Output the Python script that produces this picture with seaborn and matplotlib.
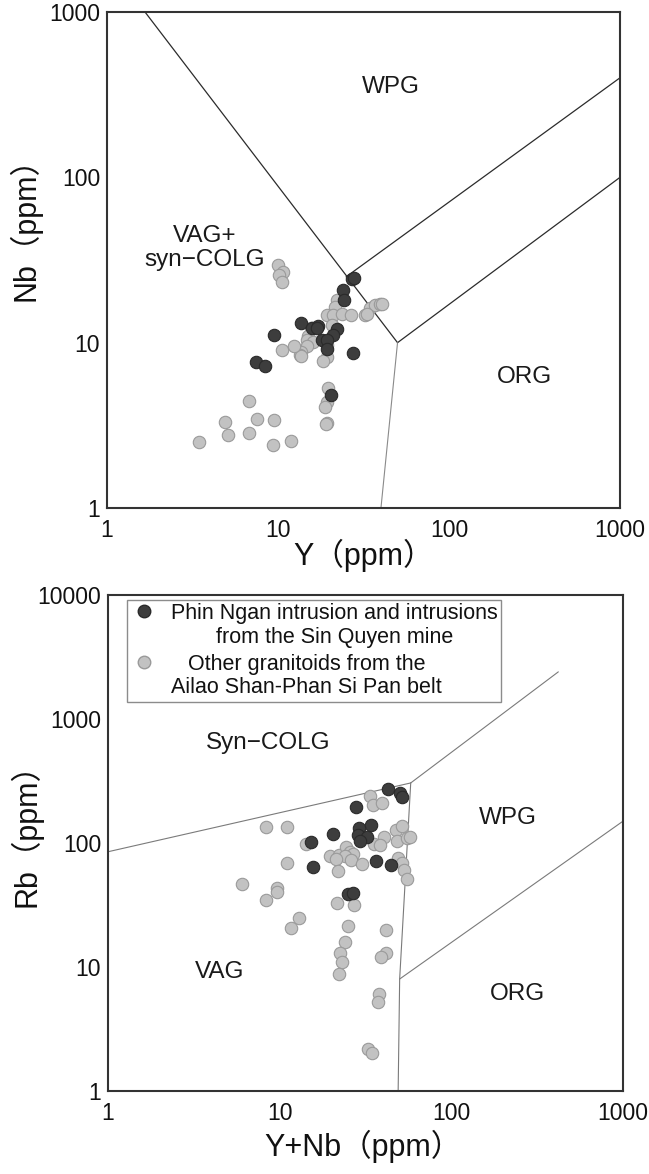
import numpy as np
import pandas as pd
import matplotlib
matplotlib.use("Agg")
import matplotlib.pyplot as plt
import seaborn as sns
from matplotlib.ticker import LogLocator, FuncFormatter, NullFormatter
from matplotlib.lines import Line2D
from matplotlib.legend_handler import HandlerLine2D

# ---------------- data ----------------
# Top: Nb vs Y
top_dark_Y = [27.0, 27.9, 23.9, 24.4, 13.6, 9.5, 15.9, 17.2, 16.8, 22.0, 21.1, 18.0, 19.3, 19.3, 27.6, 7.4, 8.4, 20.4]
top_dark_Nb = [24.2, 24.7, 20.8, 18.1, 13.2, 11.2, 12.2, 12.7, 12.2, 12.1, 11.1, 10.4, 10.4, 9.1, 8.7, 7.6, 7.2, 4.8]

top_light_Y = [10.0, 10.7, 10.2, 10.6, 22.0, 21.5, 19.3, 21.1, 23.6, 26.7, 32.3, 34.5, 36.9, 39.5, 40.7,
               15.7, 15.0, 14.7, 16.1, 14.7, 13.7, 13.5, 13.7, 12.4, 10.6, 19.3, 18.4, 19.7, 19.3, 18.8,
               19.3, 19.0, 6.8, 4.9, 7.5, 9.5, 5.1, 6.8, 3.45, 9.4, 11.9, 20.6, 19.3, 33.0]
top_light_Nb = [29.5, 26.9, 25.7, 23.4, 18.1, 16.5, 14.7, 14.7, 14.9, 14.6, 14.7, 16.1, 16.9, 17.1, 17.1,
                12.2, 10.9, 10.4, 10.1, 9.5, 8.8, 8.4, 8.3, 9.6, 9.0, 8.2, 7.7, 5.3, 4.4, 4.1,
                3.25, 3.2, 4.46, 3.33, 3.45, 3.39, 2.76, 2.86, 2.5, 2.4, 2.55, 12.8, 9.7, 15.0]

# Bottom: Rb vs Y+Nb
bot_dark_YNb = [43.0, 50.2, 51.8, 27.8, 34.0, 29.1, 28.7, 32.4, 29.4, 20.5, 15.2, 15.7, 36.4, 44.5, 25.1, 26.6]
bot_dark_Rb = [271, 252, 236, 194, 140, 131, 116, 112, 103, 118, 101, 64, 72, 67, 38.8, 39.7]

bot_light_YNb = [33.8, 35.1, 39.7, 8.3, 11.0, 14.2, 19.6, 22.2, 24.5, 25.7, 26.8, 24.0, 21.4, 26.2, 30.0,
                 21.9, 11.1, 6.0, 9.6, 9.6, 8.3, 47.6, 51.3, 40.6, 35.6, 38.4, 48.0, 55.3, 57.4, 49.1,
                 51.3, 53.0, 55.3, 21.5, 27.1, 13.0, 11.7, 24.9, 24.0, 22.4, 23.0, 22.1, 41.6, 41.6,
                 38.9, 38.0, 37.2, 32.8, 34.6]
bot_light_Rb = [239, 202, 211, 134, 134, 99, 78, 80, 93, 85, 82, 78, 74, 73, 68,
                60, 69, 47, 43, 40, 35, 127, 137, 112, 99, 96, 103, 109, 111, 75,
                69, 61, 51, 33, 31.6, 25, 20.5, 21.5, 16.0, 12.9, 10.9, 8.7, 19.9, 12.9,
                12.1, 6.1, 5.2, 2.17, 2.04]

# discrimination boundaries (Pearce et al., 1984)
top_b1_x = [1, 50]; top_b1_y = [2000, 10]
top_b2_x = [25, 1000]; top_b2_y = [25, 400]
top_b3_x = [50, 1000]; top_b3_y = [10, 100]
top_b4_x = [50, 40]; top_b4_y = [10, 1]

bot_b1_x = [1, 58]; bot_b1_y = [85, 305]
bot_b2_x = [58, 420]; bot_b2_y = [305, 2400]
bot_b3_x = [58, 50, 49]; bot_b3_y = [305, 8, 1]
bot_b4_x = [50, 1000]; bot_b4_y = [8, 150]

group_labels = ["Phin Ngan intrusion and intrusions\nfrom the Sin Quyen mine",
                "Other granitoids from the\nAilao Shan-Phan Si Pan belt"]

# ---------------- style ----------------
sns.set_style("white")
plt.rcParams['font.family'] = ['Liberation Sans', 'Noto Sans CJK SC', 'DejaVu Sans']

DARK_FC, DARK_EC = "#3d3d3d", "#2a2a2a"
LIGHT_FC, LIGHT_EC = "#c2c2c2", "#9a9a9a"
SPINE = "#333333"
MS = 80

fig = plt.figure(figsize=(6.49, 11.74), dpi=100)
ax1 = fig.add_axes([107/649, 1-508/1174, 513/649, 496/1174])
ax2 = fig.add_axes([108/649, 1-1091/1174, 515/649, 496/1174])

fmt = FuncFormatter(lambda v, p: f"{v:g}")


def style_axes(ax, ymax):
    ax.set_xscale('log'); ax.set_yscale('log')
    ax.set_xlim(1, 1000); ax.set_ylim(1, ymax)
    for s in ax.spines.values():
        s.set_color(SPINE); s.set_linewidth(1.5)
    ax.xaxis.set_major_locator(LogLocator(base=10))
    ax.yaxis.set_major_locator(LogLocator(base=10))
    ax.xaxis.set_minor_locator(LogLocator(base=10, subs=np.arange(2, 10)))
    ax.yaxis.set_minor_locator(LogLocator(base=10, subs=np.arange(2, 10)))
    ax.xaxis.set_major_formatter(fmt); ax.yaxis.set_major_formatter(fmt)
    ax.xaxis.set_minor_formatter(NullFormatter()); ax.yaxis.set_minor_formatter(NullFormatter())
    ax.tick_params(which='both', direction='in', top=False, right=False,
                   color=SPINE, width=1.0, labelsize=16.5, labelcolor='#111111')
    ax.tick_params(which='major', length=5)
    ax.tick_params(which='minor', length=4)
    ax.tick_params(axis='x', pad=8)
    ax.tick_params(axis='y', pad=5)


def scatter_groups(ax, lx, ly, dx, dy):
    dfl = pd.DataFrame({'x': lx, 'y': ly})
    dfd = pd.DataFrame({'x': dx, 'y': dy})
    sns.scatterplot(data=dfl, x='x', y='y', ax=ax, s=MS, color=LIGHT_FC,
                    edgecolor=LIGHT_EC, linewidth=0.8, legend=False, zorder=3)
    sns.scatterplot(data=dfd, x='x', y='y', ax=ax, s=MS, color=DARK_FC,
                    edgecolor=DARK_EC, linewidth=0.8, legend=False, zorder=4)


# ---------------- top panel ----------------
style_axes(ax1, 1000)
ax1.plot(top_b1_x, top_b1_y, color='#2b2b2b', lw=0.9, zorder=2)
ax1.plot(top_b2_x, top_b2_y, color='#2b2b2b', lw=0.9, zorder=2)
ax1.plot(top_b3_x, top_b3_y, color='#2b2b2b', lw=0.9, zorder=2)
ax1.plot(top_b4_x, top_b4_y, color='#8a8a8a', lw=0.8, zorder=2)
scatter_groups(ax1, top_light_Y, top_light_Nb, top_dark_Y, top_dark_Nb)

tkw = dict(ha='center', va='center', fontsize=17.5, color='#1a1a1a')
ax1.text(46, 350, "WPG", **tkw)
ax1.text(3.74, 37.4, "VAG+\nsyn\u2212COLG", linespacing=1.15, **tkw)
ax1.text(278, 6.2, "ORG", **tkw)

ax1.set_xlabel("Y（ppm）", fontsize=22, color='#111111')
ax1.set_ylabel("Nb（ppm）", fontsize=22, color='#111111')
ax1.xaxis.set_label_coords(0.50, -0.062)
ax1.yaxis.set_label_coords(-0.128, 0.578)

# ---------------- bottom panel ----------------
style_axes(ax2, 10000)
for bx, by in [(bot_b1_x, bot_b1_y), (bot_b2_x, bot_b2_y), (bot_b3_x, bot_b3_y), (bot_b4_x, bot_b4_y)]:
    ax2.plot(bx, by, color='#7a7a7a', lw=0.8, zorder=2)
scatter_groups(ax2, bot_light_YNb, bot_light_Rb, bot_dark_YNb, bot_dark_Rb)

ax2.text(8.55, 640, "Syn\u2212COLG", **tkw)
ax2.text(214, 159, "WPG", **tkw)
ax2.text(4.49, 9.1, "VAG", **tkw)
ax2.text(244, 6.06, "ORG", **tkw)

ax2.set_xlabel("Y+Nb（ppm）", fontsize=22, color='#111111')
ax2.set_ylabel("Rb（ppm）", fontsize=22, color='#111111')
ax2.xaxis.set_label_coords(0.495, -0.078)
ax2.yaxis.set_label_coords(-0.128, 0.531)


class TopHandler(HandlerLine2D):
    def create_artists(self, legend, orig_handle, xdescent, ydescent, width, height, fontsize, trans):
        arts = super().create_artists(legend, orig_handle, xdescent, ydescent, width, height, fontsize, trans)
        for a in arts:
            a.set_ydata(np.asarray(a.get_ydata(), dtype=float) + 0.56 * fontsize * 1.2)
        return arts


h_dark = Line2D([], [], ls='none', marker='o', markersize=9, markerfacecolor=DARK_FC, markeredgecolor=DARK_EC)
h_light = Line2D([], [], ls='none', marker='o', markersize=9, markerfacecolor=LIGHT_FC, markeredgecolor=LIGHT_EC)
leg = ax2.legend([h_dark, h_light], group_labels, loc='upper left', bbox_to_anchor=(0.037, 0.99),
                 borderaxespad=0, fontsize=15.5, frameon=True, fancybox=False, framealpha=1,
                 edgecolor='#8c8c8c', labelspacing=0.3, borderpad=0.15, handlelength=1.3,
                 handletextpad=0.6, handler_map={h_dark: TopHandler(), h_light: TopHandler()})
leg.get_frame().set_linewidth(1.0)
for t in leg.get_texts():
    t.set_multialignment('center')
    t.set_linespacing(1.15)
    t.set_color('#111111')

fig.savefig("out.png", dpi=100)
